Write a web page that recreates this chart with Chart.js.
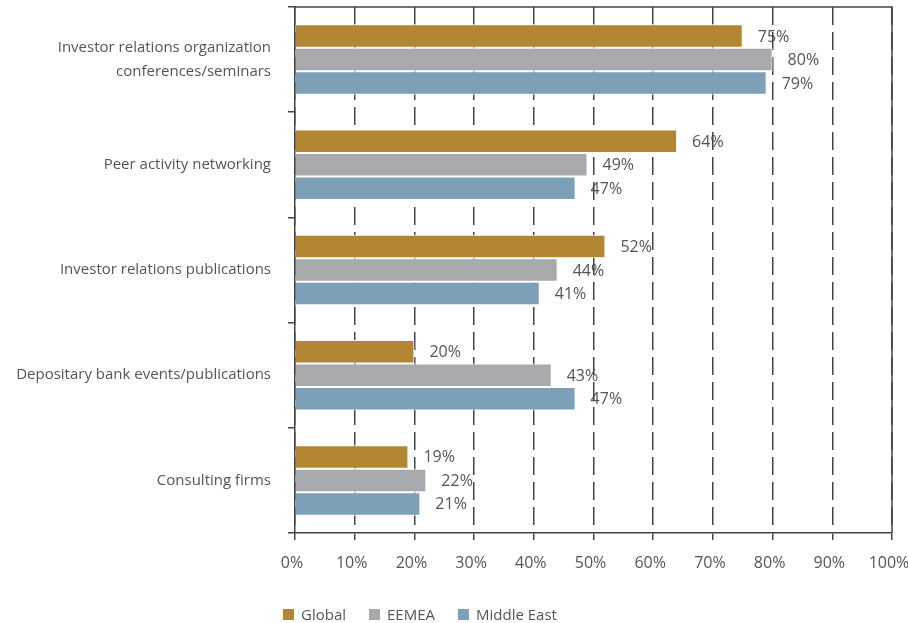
<!DOCTYPE html>
<html>
<head>
<meta charset="utf-8">
<script src="https://cdn.jsdelivr.net/npm/chart.js@4/dist/chart.umd.min.js"></script>
<style>
	html, body { margin: 0; padding: 0; background: #fff; }
	#wrap { position: relative; width: 908px; height: 623px; }
	#legend {
		position: absolute; left: 283px; top: 604px;
		font: 15px "Open Sans", sans-serif; color: #555;
		display: flex; align-items: center;
	}
	#legend span.item { display: flex; align-items: center; margin-right: 23px; }
	#legend span.box { display: inline-block; width: 11px; height: 11px; margin-right: 7px; }
</style>
</head>
<body>
<div id="wrap">
	<canvas id="myChart" width="908" height="623"></canvas>
	<div id="legend"></div>
</div>
<script>
	'use strict';

	const categories = [
		['Investor relations organization', 'conferences/seminars'],
		'Peer activity networking',
		'Investor relations publications',
		'Depositary bank events/publications',
		'Consulting firms'
	];
	const seriesNames = ['Global', 'EEMEA', 'Middle East'];
	const globalValues = [75, 64, 52, 20, 19];
	const eemeaValues = [80, 49, 44, 43, 22];
	const middleEastValues = [79, 47, 41, 47, 21];
	const seriesColors = ['#b38634', '#a8a9ad', '#7ca0b7'];
	const xTicks = [0, 10, 20, 30, 40, 50, 60, 70, 80, 90, 100];

	const textColor = '#555';
	const lineColor = '#444';
	const fontFamily = '"Open Sans", sans-serif';

	// value labels sit right of each bar, drawn before the grid so the dashes cross them
	const valueLabels = {
		id: 'valueLabels',
		beforeDraw(chart) {
			const ctx = chart.ctx;
			ctx.save();
			ctx.font = '16px ' + fontFamily;
			ctx.fillStyle = textColor;
			ctx.textAlign = 'left';
			ctx.textBaseline = 'middle';
			chart.data.datasets.forEach((ds, i) => {
				chart.getDatasetMeta(i).data.forEach((bar, j) => {
					ctx.fillText(ds.data[j] + '%', bar.x + 15, bar.y + 1);
				});
			});
			ctx.restore();
		}
	};

	// top and right edges of the plot frame
	const frame = {
		id: 'frame',
		afterDatasetsDraw(chart) {
			const a = chart.chartArea;
			const ctx = chart.ctx;
			ctx.save();
			ctx.strokeStyle = lineColor;
			ctx.lineWidth = 1.5;
			ctx.beginPath();
			ctx.moveTo(a.left, a.top);
			ctx.lineTo(a.right, a.top);
			ctx.lineTo(a.right, a.bottom);
			ctx.stroke();
			ctx.restore();
		}
	};

	const allValues = [globalValues, eemeaValues, middleEastValues];
	const datasets = seriesNames.map((name, i) => ({
		label          : name,
		data           : allValues[i],
		backgroundColor: seriesColors[i],
		borderColor    : '#fff',
		borderWidth    : 1,
		borderSkipped  : 'start',
		barPercentage  : 1,
		categoryPercentage: 0.67
	}));

	let ctx = document.getElementById('myChart').getContext('2d');
	let myChart = new Chart(ctx, {
		type   : 'bar',
		data   : { labels: categories, datasets: datasets },
		plugins: [valueLabels, frame],
		options: {
			indexAxis  : 'y',
			responsive : false,
			animation  : false,
			layout     : { padding: { top: 7, right: 16, bottom: 50, left: 0 } },
			plugins    : {
				legend : { display: false },
				tooltip: { enabled: false }
			},
			scales: {
				x: {
					min: 0,
					max: 100,
					afterBuildTicks(scale) {
						scale.ticks = xTicks.map(v => ({ value: v }));
					},
					afterFit(scale) {
						scale.height = 40;
						scale.paddingLeft = 0;
						scale.paddingRight = 0;
					},
					ticks : {
						callback   : v => v + '%',
						color      : textColor,
						font       : { family: fontFamily, size: 16 },
						padding    : 14,
						labelOffset: -3,
						maxRotation: 0
					},
					grid  : {
						color         : lineColor,
						lineWidth     : 1.5,
						tickLength    : 7,
						tickBorderDash: []
					},
					border: { color: lineColor, width: 1.5, dash: [18, 7] }
				},
				y: {
					afterFit(scale) {
						scale.width = 295;
						scale.paddingTop = 0;
						scale.paddingBottom = 0;
					},
					ticks : {
						color  : textColor,
						font   : { family: fontFamily, size: 15, lineHeight: 1.6 },
						padding: 17
					},
					grid  : {
						color          : lineColor,
						lineWidth      : 1.5,
						tickLength     : 7,
						drawOnChartArea: false,
						offset         : true
					},
					border: { color: lineColor, width: 1.5 }
				}
			}
		}
	});

	let legend = document.getElementById('legend');
	seriesNames.forEach((name, i) => {
		let item = document.createElement('span');
		item.className = 'item';
		item.innerHTML = '<span class="box" style="background:' + seriesColors[i] + '"></span>' + name;
		legend.appendChild(item);
	});
</script>
</body>
</html>
